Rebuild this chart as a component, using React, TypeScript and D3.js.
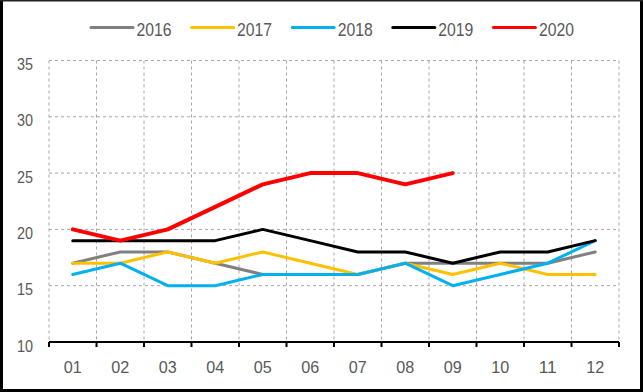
import React, { useEffect, useRef } from "react";
import { scaleLinear, scaleBand, line, select, axisBottom } from "d3";

const width = 643;
const height = 392;

const months = ["01", "02", "03", "04", "05", "06", "07", "08", "09", "10", "11", "12"];
const yTicks = [10, 15, 20, 25, 30, 35];

const years = ["2016", "2017", "2018", "2019", "2020"];
const colors = ["#808080", "#FFC000", "#00B0F0", "#000000", "#FF0000"];
const strokes = [3, 3, 3, 3, 4];

const s2016 = [17, 18, 18, 17, 16, 16, 16, 17, 17, 17, 17, 18];
const s2017 = [17, 17, 18, 17, 18, 17, 16, 17, 16, 17, 16, 16];
const s2018 = [16, 17, 15, 15, 16, 16, 16, 17, 15, 16, 17, 19];
const s2019 = [19, 19, 19, 19, 20, 19, 18, 18, 17, 18, 18, 19];
const s2020 = [20, 19, 20, 22, 24, 25, 25, 24, 25];
const series = [s2016, s2017, s2018, s2019, s2020];

const margin = { left: 49, right: 24, top: 60.5, bottom: 50 };
const font = "'Liberation Sans', Arial, sans-serif";
const textColor = "#595959";

const XAxis = ({ xScale, innerHeight }) => {
  const ref = useRef(null);
  useEffect(() => {
    const g = select(ref.current);
    // month boundaries -> small ticks under the axis line
    const bounds = months.map((m) => xScale(m)).concat([xScale.range()[1]]);
    g.selectAll("*").remove();
    g.append("line")
      .attr("x1", bounds[0])
      .attr("x2", bounds[bounds.length - 1])
      .attr("stroke", "#000")
      .attr("stroke-width", 2);
    g.selectAll("line.tick")
      .data(bounds)
      .join("line")
      .attr("class", "tick")
      .attr("x1", (d) => d)
      .attr("x2", (d) => d)
      .attr("y1", 0)
      .attr("y2", 5)
      .attr("stroke", "#000")
      .attr("stroke-width", 2);
    const axis = axisBottom(xScale).tickSize(0).tickPadding(19);
    const a = g.append("g").call(axis);
    a.select(".domain").remove();
    a.selectAll("text")
      .attr("fill", textColor)
      .attr("textLength", 18)
      .attr("lengthAdjust", "spacingAndGlyphs")
      .style("font-family", font)
      .style("font-size", "16.5px");
  }, []);
  return <g transform={`translate(0,${innerHeight})`} ref={ref} />;
};

const App = () => {
  const innerWidth = width - margin.left - margin.right;
  const innerHeight = height - margin.top - margin.bottom;

  const xScale = scaleBand().domain(months).range([0, innerWidth]).padding(0);
  const yScale = scaleLinear().domain([10, 35]).range([innerHeight, 0]);

  const lineGen = line<number>()
    .x((d, i) => xScale(months[i]) + xScale.bandwidth() / 2)
    .y((d) => yScale(d));

  const bounds = months.map((m) => xScale(m)).concat([innerWidth]);

  return (
    <svg
      width={width}
      height={height}
      style={{ position: "absolute", left: 0, top: 0, background: "#fff" }}
    >
      <rect x={0} y={0} width={width} height={height} fill="#fff" />
      {/* legend */}
      <g fontFamily={font} fontSize={19} fill={textColor}>
        {years.map((y, i) => (
          <g key={y} transform={`translate(${91 + i * 100.6},27.5)`}>
            <line x1={0} x2={42} stroke={colors[i]} strokeWidth={3} strokeLinecap="round" />
            <text x={45.5} y={8.5} textLength={35} lengthAdjust="spacingAndGlyphs">
              {y}
            </text>
          </g>
        ))}
      </g>
      <g transform={`translate(${margin.left},${margin.top})`}>
        {/* horizontal grid */}
        {yTicks.slice(1).map((t) => (
          <line
            key={t}
            x1={0}
            x2={innerWidth}
            y1={yScale(t)}
            y2={yScale(t)}
            stroke="#a6a6a6"
            strokeWidth={1}
            strokeDasharray="3,3"
          />
        ))}
        {/* vertical grid */}
        {bounds.map((b, i) => (
          <line
            key={i}
            x1={b}
            x2={b}
            y1={0}
            y2={innerHeight}
            stroke="#a6a6a6"
            strokeWidth={1}
            strokeDasharray="3,3"
          />
        ))}
        {yTicks.map((t) => (
          <text
            key={t}
            x={-16}
            y={yScale(t) + 9.5}
            textAnchor="end"
            textLength={16}
            lengthAdjust="spacingAndGlyphs"
            fontFamily={font}
            fontSize={17}
            fill={textColor}
          >
            {t}
          </text>
        ))}
        <XAxis xScale={xScale} innerHeight={innerHeight} />
        {series.map((s, i) => (
          <path
            key={years[i]}
            d={lineGen(s)}
            fill="none"
            stroke={colors[i]}
            strokeWidth={strokes[i]}
            strokeLinejoin="round"
            strokeLinecap="round"
          />
        ))}
      </g>
      {/* outer frame */}
      <rect x={0} y={0} width={3} height={height} fill="#000" />
      <rect x={640} y={0} width={3} height={height} fill="#000" />
      <rect x={0} y={389} width={width} height={3} fill="#000" />
      <rect x={0} y={0} width={width} height={1.5} fill="#222" />
    </svg>
  );
};

export default App;
